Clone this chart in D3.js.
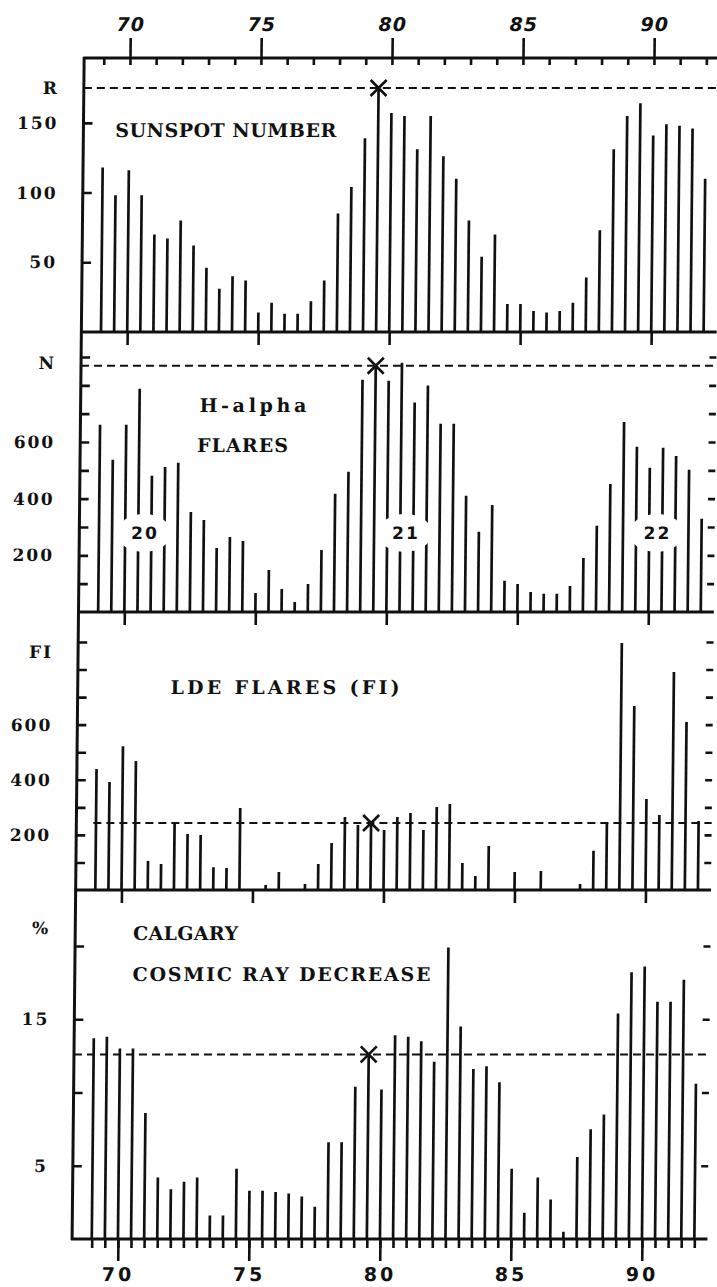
<!DOCTYPE html>
<html>
<head>
<meta charset="utf-8">
<script src="https://cdn.jsdelivr.net/npm/d3@7"></script>
<style>
body { margin: 0; background: #fff; }
svg { display: block; }
.lbl { font-family: "DejaVu Serif", serif; font-weight: bold; font-size: 19px; fill: #111; }
.cyc { font-family: "DejaVu Sans", sans-serif; font-weight: bold; font-size: 17px; fill: #111; letter-spacing: 2px; }
.ax text { font-family: "DejaVu Serif", serif; font-weight: bold; font-size: 17px; fill: #111; letter-spacing: 2px; }
.ax line { stroke: #111; stroke-width: 2.6; }
.top text { font-family: "DejaVu Sans", sans-serif; font-weight: bold; font-style: italic; font-size: 19px; letter-spacing: 1px; fill: #111; }
.bottom text { font-family: "DejaVu Sans", sans-serif; font-weight: 600; font-size: 19px; letter-spacing: 3px; fill: #111; }
</style>
</head>
<body>
<div id="plot"></div>
<script>
// half-year bins, 1969.0 .. 1992.0
const years = [69, 69.5, 70, 70.5, 71, 71.5, 72, 72.5, 73, 73.5, 74, 74.5, 75, 75.5, 76, 76.5,
  77, 77.5, 78, 78.5, 79, 79.5, 80, 80.5, 81, 81.5, 82, 82.5, 83, 83.5, 84, 84.5, 85, 85.5,
  86, 86.5, 87, 87.5, 88, 88.5, 89, 89.5, 90, 90.5, 91, 91.5, 92];

const sunspots = [118, 98, 116, 98, 70, 67, 80, 62, 46, 31, 40, 37, 14, 21, 13, 13, 22, 37, 85, 104,
  139, 175, 157, 155, 131, 155, 126, 110, 80, 54, 70, 20, 20, 15, 14, 15, 21, 39, 73, 131,
  155, 164, 141, 149, 148, 146, 110];

const halpha = [661, 537, 661, 788, 481, 512, 527, 353, 325, 226, 265, 251, 67, 148, 81, 35, 99, 219, 417, 495,
  820, 869, 816, 880, 739, 799, 664, 664, 410, 283, 378, 110, 99, 71, 64, 64, 92, 191, 304, 452,
  671, 583, 509, 580, 551, 502, 329];

const ldeFlares = [439, 392, 522, 468, 105, 94, 247, 203, 200, 83, 80, 298, 0, 18, 65, 0, 22, 94, 171, 265,
  236, 243, 218, 265, 279, 218, 301, 312, 98, 51, 160, 0, 65, 0, 69, 0, 0, 22, 142, 243,
  896, 668, 330, 272, 791, 610, 250];

const cosmicRay = [13.7, 13.8, 13.0, 13.0, 8.6, 4.2, 3.4, 3.9, 4.2, 1.6, 1.6, 4.8, 3.3, 3.3, 3.2, 3.1, 2.9, 2.2, 6.6, 6.6,
  10.4, 12.6, 10.2, 13.9, 13.8, 13.5, 12.1, 19.9, 14.5, 11.6, 11.8, 10.7, 4.8, 1.8, 4.2, 2.7, 0.5, 5.6, 7.5, 8.5,
  15.4, 18.2, 18.6, 16.2, 16.2, 17.7, 10.6];

// level of the 1979.5 maximum in each panel
const peakYear = 79.5;
const peakLevels = [175, 869, 243, 12.6];

const majorYears = [70, 75, 80, 85, 90];
const sunspotTicks = [50, 100, 150];
const flareTicks = [100, 200, 300, 400, 500, 600, 700, 800, 900];
const flareTickLabels = [200, 400, 600];
const cosmicTicks = [5, 10, 15, 20];
const cosmicTickLabels = [5, 15];

const cycleLabels = ["20", "21", "22"];
const cycleYears = [70.72, 80.68, 90.28];

const w = 717, h = 1287;
const k = 0.0102; // scan skew

const svg = d3.select("#plot").append("svg").attr("width", w).attr("height", h);
const g = svg.append("g").attr("transform", `matrix(1,0,${-k},1,${k * 58},0)`);

const x = d3.scaleLinear().domain([70, 90]).range([130, 654]);
const x0 = 68.25, x1 = 92.5;

const panels = [
  { values: sunspots, y: d3.scaleLinear().domain([0, 175]).range([332, 88]), top: 58, bottom: 332,
    ticks: sunspotTicks, labels: sunspotTicks, unit: "R", unitAt: 175, refStart: x0, rightTicks: false },
  { values: halpha, y: d3.scaleLinear().domain([0, 900]).range([612, 357]), top: 332, bottom: 612,
    ticks: flareTicks, labels: flareTickLabels, unit: "N", unitAt: 879, refStart: x0, rightTicks: true },
  { values: ldeFlares, y: d3.scaleLinear().domain([0, 900]).range([890, 642]), top: 612, bottom: 890,
    ticks: flareTicks, labels: flareTickLabels, unit: "FI", unitAt: 864, refStart: 68.9, rightTicks: true },
  { values: cosmicRay, y: d3.scaleLinear().domain([0, 20]).range([1239, 946]), top: 890, bottom: 1239,
    ticks: cosmicTicks, labels: cosmicTickLabels, unit: "%", unitAt: 21.2, refStart: x0, rightTicks: true }
];

panels.forEach((p, i) => {
  // left axis
  const left = g.append("g").attr("class", "ax").attr("transform", `translate(${x(x0)},0)`)
    .call(d3.axisLeft(p.y).tickValues(p.ticks).tickSize(-9).tickPadding(25)
      .tickFormat(d => p.labels.includes(d) ? d : ""));
  left.select(".domain").remove();
  left.attr("font-size", null).attr("font-family", null);
  left.append("text").attr("x", -25).attr("y", p.y(p.unitAt)).attr("dy", "0.35em")
    .attr("text-anchor", "end").text(p.unit);

  // right axis (mostly off canvas)
  if (p.rightTicks) {
    const right = g.append("g").attr("class", "ax").attr("transform", `translate(${x(x1)},0)`)
      .call(d3.axisRight(p.y).tickValues(p.ticks).tickSize(-7).tickFormat(""));
    right.select(".domain").remove();
  }

  // dashed reference at the maximum
  g.append("line")
    .attr("x1", x(p.refStart)).attr("x2", x(x1))
    .attr("y1", p.y(peakLevels[i])).attr("y2", p.y(peakLevels[i]))
    .attr("stroke", "#111").attr("stroke-width", 2).attr("stroke-dasharray", "8,5");

  // bars
  g.append("g").selectAll("line").data(years).enter().append("line")
    .attr("x1", d => x(d)).attr("x2", d => x(d))
    .attr("y1", p.y(0)).attr("y2", (d, j) => p.y(p.values[j]))
    .attr("stroke", "#111").attr("stroke-width", 2.7);

  // X marker
  const cx = x(peakYear), cy = p.y(peakLevels[i]), s = 8;
  g.append("path")
    .attr("d", `M${cx - s},${cy - s}L${cx + s},${cy + s}M${cx - s},${cy + s}L${cx + s},${cy - s}`)
    .attr("stroke", "#111").attr("stroke-width", 2.6).attr("fill", "none");

  // panel bottom line + major ticks into next panel
  if (i < panels.length - 1) {
    const sep = g.append("g").attr("class", "ax").attr("transform", `translate(0,${p.bottom})`)
      .call(d3.axisBottom(x).tickValues(majorYears).tickSize(13).tickFormat(""));
    sep.select(".domain").remove();
  }
  g.append("line").attr("x1", x(x0) - 1).attr("x2", x(x1))
    .attr("y1", p.bottom).attr("y2", p.bottom)
    .attr("stroke", "#111").attr("stroke-width", 3);
});

// cycle numbers in the H-alpha panel, bars broken around them
cycleLabels.forEach((c, i) => {
  g.append("ellipse").attr("cx", x(cycleYears[i])).attr("cy", 533)
    .attr("rx", 27).attr("ry", 19).attr("fill", "#fff");
  g.append("text").attr("class", "cyc").attr("x", x(cycleYears[i]) + 1).attr("y", 539)
    .attr("text-anchor", "middle").text(c);
});

// frame: left and top
g.append("line").attr("x1", x(x0)).attr("x2", x(x0)).attr("y1", 57).attr("y2", 1240)
  .attr("stroke", "#111").attr("stroke-width", 3);
g.append("line").attr("x1", x(x0) - 1).attr("x2", x(x1)).attr("y1", 58).attr("y2", 58)
  .attr("stroke", "#111").attr("stroke-width", 3);

// top axis
const topMinor = g.append("g").attr("class", "ax").attr("transform", "translate(0,58)")
  .call(d3.axisTop(x).tickValues(d3.range(69, 93)).tickSize(-7).tickFormat(""));
topMinor.select(".domain").remove();
const topMajor = g.append("g").attr("class", "ax top").attr("transform", "translate(0,58)")
  .call(d3.axisTop(x).tickValues(majorYears).tickSize(20).tickPadding(7));
topMajor.select(".domain").remove();
topMajor.attr("font-size", null).attr("font-family", null);

// bottom axis
const botMinor = g.append("g").attr("class", "ax").attr("transform", "translate(0,1239)")
  .call(d3.axisBottom(x).tickValues(years).tickSize(9).tickFormat(""));
botMinor.select(".domain").remove();
const botMajor = g.append("g").attr("class", "ax bottom").attr("transform", "translate(0,1239)")
  .call(d3.axisBottom(x).tickValues(majorYears).tickSize(22).tickPadding(7));
botMajor.select(".domain").remove();
botMajor.attr("font-size", null).attr("font-family", null);

// panel titles: text, x, baseline y, width
const titles = [
  ["SUNSPOT NUMBER", 116, 137, 221],
  ["H-alpha", 203, 412, 107],
  ["FLARES", 201, 452, 91],
  ["LDE FLARES (FI)", 177, 694, 229],
  ["CALGARY", 142, 940, 105],
  ["COSMIC RAY DECREASE", 142, 981, 298]
];
g.selectAll(".title").data(titles).enter().append("text")
  .attr("class", "lbl title").attr("x", d => d[1]).attr("y", d => d[2])
  .attr("textLength", d => d[3]).attr("lengthAdjust", "spacing").text(d => d[0]);
</script>
</body>
</html>
